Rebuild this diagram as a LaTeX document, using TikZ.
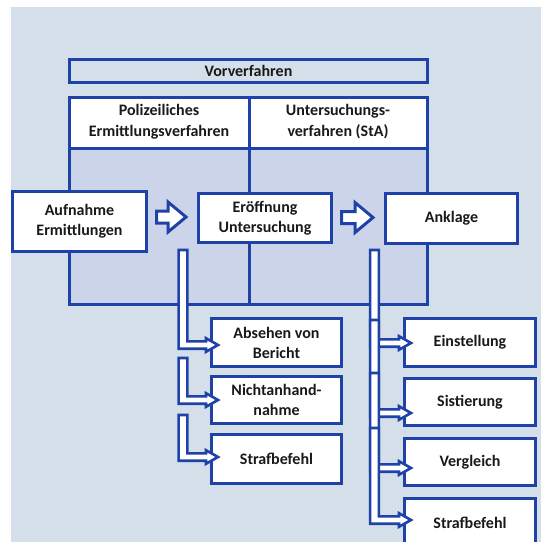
\documentclass[tikz,border=0pt]{standalone}
\usepackage{fontspec}
\setmainfont{Carlito}
\usetikzlibrary{calc}

\definecolor{frame}{RGB}{30,66,168}
\definecolor{page}{RGB}{212,223,233}
\definecolor{panel}{RGB}{203,212,232}
\definecolor{ink}{RGB}{25,25,25}

% hollow L-shaped connector: #1 top of the bar, #2 target box, #3 vertical shift of the branch
\newcommand\hollowbranch[3]{%
  \draw[branch] let \p1=(#1), \p2=($(#2.west)+(0,#3)$) in
    ({\x1-4.4pt},\y1) -- ({\x1+4.4pt},\y1) -- ({\x1+4.4pt},{\y2+3.7pt})
    -- ({\x2-4pt},{\y2+3.7pt}) -- ({\x2-4pt},{\y2+6.8pt}) -- ({\x2+8pt},\y2)
    -- ({\x2-4pt},{\y2-6.8pt}) -- ({\x2-4pt},{\y2-3.7pt})
    -- ({\x1-4.4pt},{\y2-3.7pt}) -- cycle;}

% hollow block arrow between two boxes
\newcommand\blockarrow[2]{%
  \draw[block] let \p1=($(#1.east)+(8.5,0)$), \p2=($(#2.west)+(-11,-1)$) in
    (\x1,{\y2+6pt}) -- ({\x2-18pt},{\y2+6pt}) -- ({\x2-18pt},{\y2+15pt})
    -- (\x2,\y2) -- ({\x2-18pt},{\y2-15pt}) -- ({\x2-18pt},{\y2-6pt})
    -- (\x1,{\y2-6pt}) -- cycle;}

\begin{document}
\begin{tikzpicture}[x=1pt,y=-1pt,
  frameline/.style={draw=frame, line width=3pt},
  box/.style={draw=frame, line width=3pt, fill=white, text=ink, align=center,
    font=\bfseries\fontsize{16}{20}\selectfont, inner sep=0pt},
  headtext/.style={text=ink, align=center, font=\bfseries\fontsize{16}{21}\selectfont, inner sep=0pt},
  branch/.style={draw=frame, fill=white, line width=2.6pt, line join=miter},
  block/.style={draw=frame, fill=white, line width=3pt, line join=miter, miter limit=4}]

\useasboundingbox (0,0) rectangle (541,542);
\clip (0,0) rectangle (541,542);
\fill[white] (0,0) rectangle (541,542);
\fill[page] (11,7) rectangle (541,542);

% title bar
\node[draw=frame, line width=3pt, minimum width=358pt, minimum height=23pt, inner sep=0pt,
  text=ink, font=\bfseries\fontsize{16}{20}\selectfont] (vorverfahren) at (248.5,71) {Vorverfahren};

% two-column table
\fill[white] (69.5,97.5) rectangle (427.5,148);
\fill[panel] (69.5,148) rectangle (427.5,304);
\draw[frameline] (69.5,97.5) rectangle (427.5,304);
\draw[frameline] (69.5,148) -- (427.5,148);
\draw[frameline] (249,97.5) -- (249,304);
\node[headtext] (polizei) at (159,122) {Polizeiliches\\Ermittlungsverfahren};
\node[headtext] (sta) at (338,122) {Untersuchungs-\\verfahren (StA)};

% main stages
\node[box, minimum width=134pt, minimum height=60pt] (aufnahme) at (79.5,221.5) {Aufnahme\\Ermittlungen};
\node[box, minimum width=133pt, minimum height=49pt] (eroeffnung) at (265,218) {Eröffnung\\Untersuchung};
\node[box, minimum width=132pt, minimum height=50pt] (anklage) at (451.5,218.5) {Anklage};

\blockarrow{aufnahme}{eroeffnung}
\blockarrow{eroeffnung}{anklage}

% outcomes of the police investigation
\node[box, minimum width=130pt, minimum height=48pt] (absehen) at (276.5,342.5) {Absehen von\\Bericht};
\node[box, minimum width=130pt, minimum height=47pt] (nichtan) at (276.5,400) {Nichtanhand-\\nahme};
\node[box, minimum width=130pt, minimum height=49pt] (strafl) at (276.5,459) {Strafbefehl};

% outcomes of the prosecution
\node[box, minimum width=131pt, minimum height=48pt] (einst) at (470,342.5) {Einstellung};
\node[box, minimum width=131pt, minimum height=47pt] (sist) at (470,402) {Sistierung};
\node[box, minimum width=131pt, minimum height=47pt] (vergl) at (470,462) {Vergleich};
\node[box, minimum width=131pt, minimum height=48pt] (strafr) at (470,522.5) {Strafbefehl};

% starting points of the branch bars
\coordinate (ltop1) at (183,250);
\coordinate (ltop2) at (183,358);
\coordinate (ltop3) at (183,415);
\coordinate (rtop1) at (374.5,250);
\coordinate (rtop2) at (374.5,320);
\coordinate (rtop3) at (374.5,373);
\coordinate (rtop4) at (374.5,428);

\hollowbranch{ltop1}{absehen}{2.5}
\hollowbranch{ltop2}{nichtan}{0}
\hollowbranch{ltop3}{strafl}{-2}

\hollowbranch{rtop1}{einst}{0.5}
\hollowbranch{rtop2}{sist}{11}
\hollowbranch{rtop3}{vergl}{6}
\hollowbranch{rtop4}{strafr}{-2.5}
\end{tikzpicture}
\end{document}
